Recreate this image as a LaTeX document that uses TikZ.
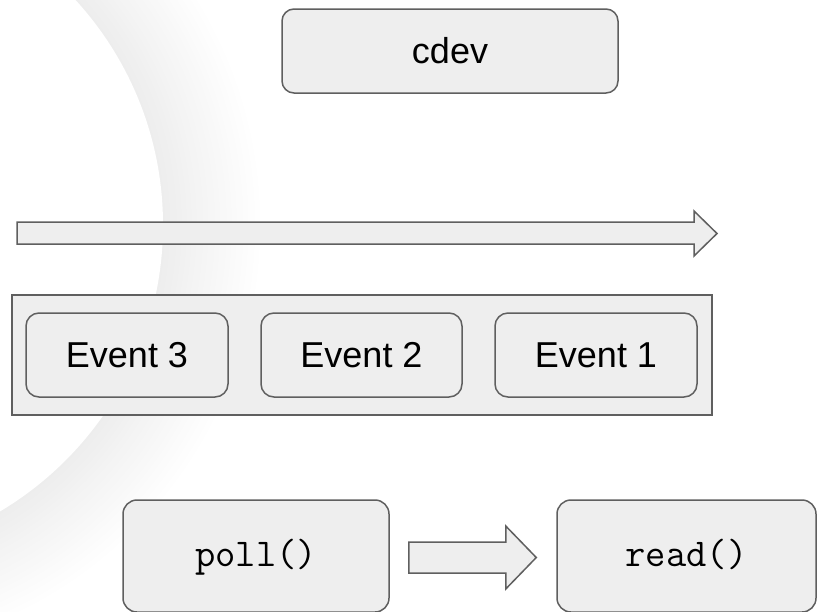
\documentclass[tikz,border=0pt]{standalone}
\usepackage{fontspec}
\setmainfont{Liberation Sans}
\usetikzlibrary{calc}
\definecolor{boxfill}{HTML}{EEEEEE}
\definecolor{boxline}{HTML}{5F5F5F}
\tikzset{
  card/.style={draw=boxline, fill=boxfill, line width=1.5pt, rounded corners=13pt,
    inner sep=0pt, text=black, font=\fontsize{36}{40}\selectfont},
  codecard/.style={card, rounded corners=14pt, text height=28pt, text depth=8pt,
    font=\ttfamily\fontsize{39.4}{42}\selectfont},
  tray/.style={draw=boxline, fill=boxfill, line width=1.5pt, inner sep=0pt},
  blockarrow/.style={draw=boxline, fill=boxfill, line width=1.5pt, line join=miter}
}
\begin{document}
\begin{tikzpicture}[x=1pt,y=-1pt]
\useasboundingbox (0,0) rectangle (819,611);
\fill[white] (0,0) rectangle (819,611);

% soft grey halo around a large white disc on the left
\begin{scope}
  \clip (0,0) rectangle (819,611);
  \foreach \i in {0,...,60}{
    \pgfmathsetmacro\rad{333+100*(1-\i/60)}
    \pgfmathsetmacro\tone{7*\i/60}
    \fill[black!\tone] (-170,225) circle[radius=\rad pt];
  }
  \fill[white] (-170,225) circle[radius=333pt];
\end{scope}

% device
\node[card, rounded corners=12pt, minimum width=336pt, minimum height=84pt] (cdev) at (450,51) {cdev};

% time arrow
\draw[blockarrow] (17,222) -- (694,222) -- (694,211) -- (717,233.5) -- (694,256)
  -- (694,244) -- (17,244) -- cycle;

% event queue
\node[tray, minimum width=700pt, minimum height=120pt] (queue) at (362,355) {};
\node[card, minimum width=202pt, minimum height=84pt] (ev3) at (127,355) {Event 3};
\node[card, minimum width=201pt, minimum height=84pt] (ev2) at (361.5,355) {Event 2};
\node[card, minimum width=202pt, minimum height=84pt] (ev1) at (596,355) {Event 1};

% syscalls, running off the lower edge
\begin{scope}
  \clip (0,0) rectangle (819,611);
  \node[codecard, minimum width=266pt, minimum height=112pt] (poll) at (256,556) {poll()};
  \node[codecard, minimum width=259pt, minimum height=112pt] (read) at (686.5,556) {read()};
\end{scope}

\draw[blockarrow] ($(poll.east)+(19,-14)$) -- ($(poll.east)+(116,-14)$)
  -- ($(poll.east)+(116,-30)$) -- ($(read.west)+(-20,1.5)$)
  -- ($(poll.east)+(116,33)$) -- ($(poll.east)+(116,17)$)
  -- ($(poll.east)+(19,17)$) -- cycle;
\end{tikzpicture}
\end{document}
